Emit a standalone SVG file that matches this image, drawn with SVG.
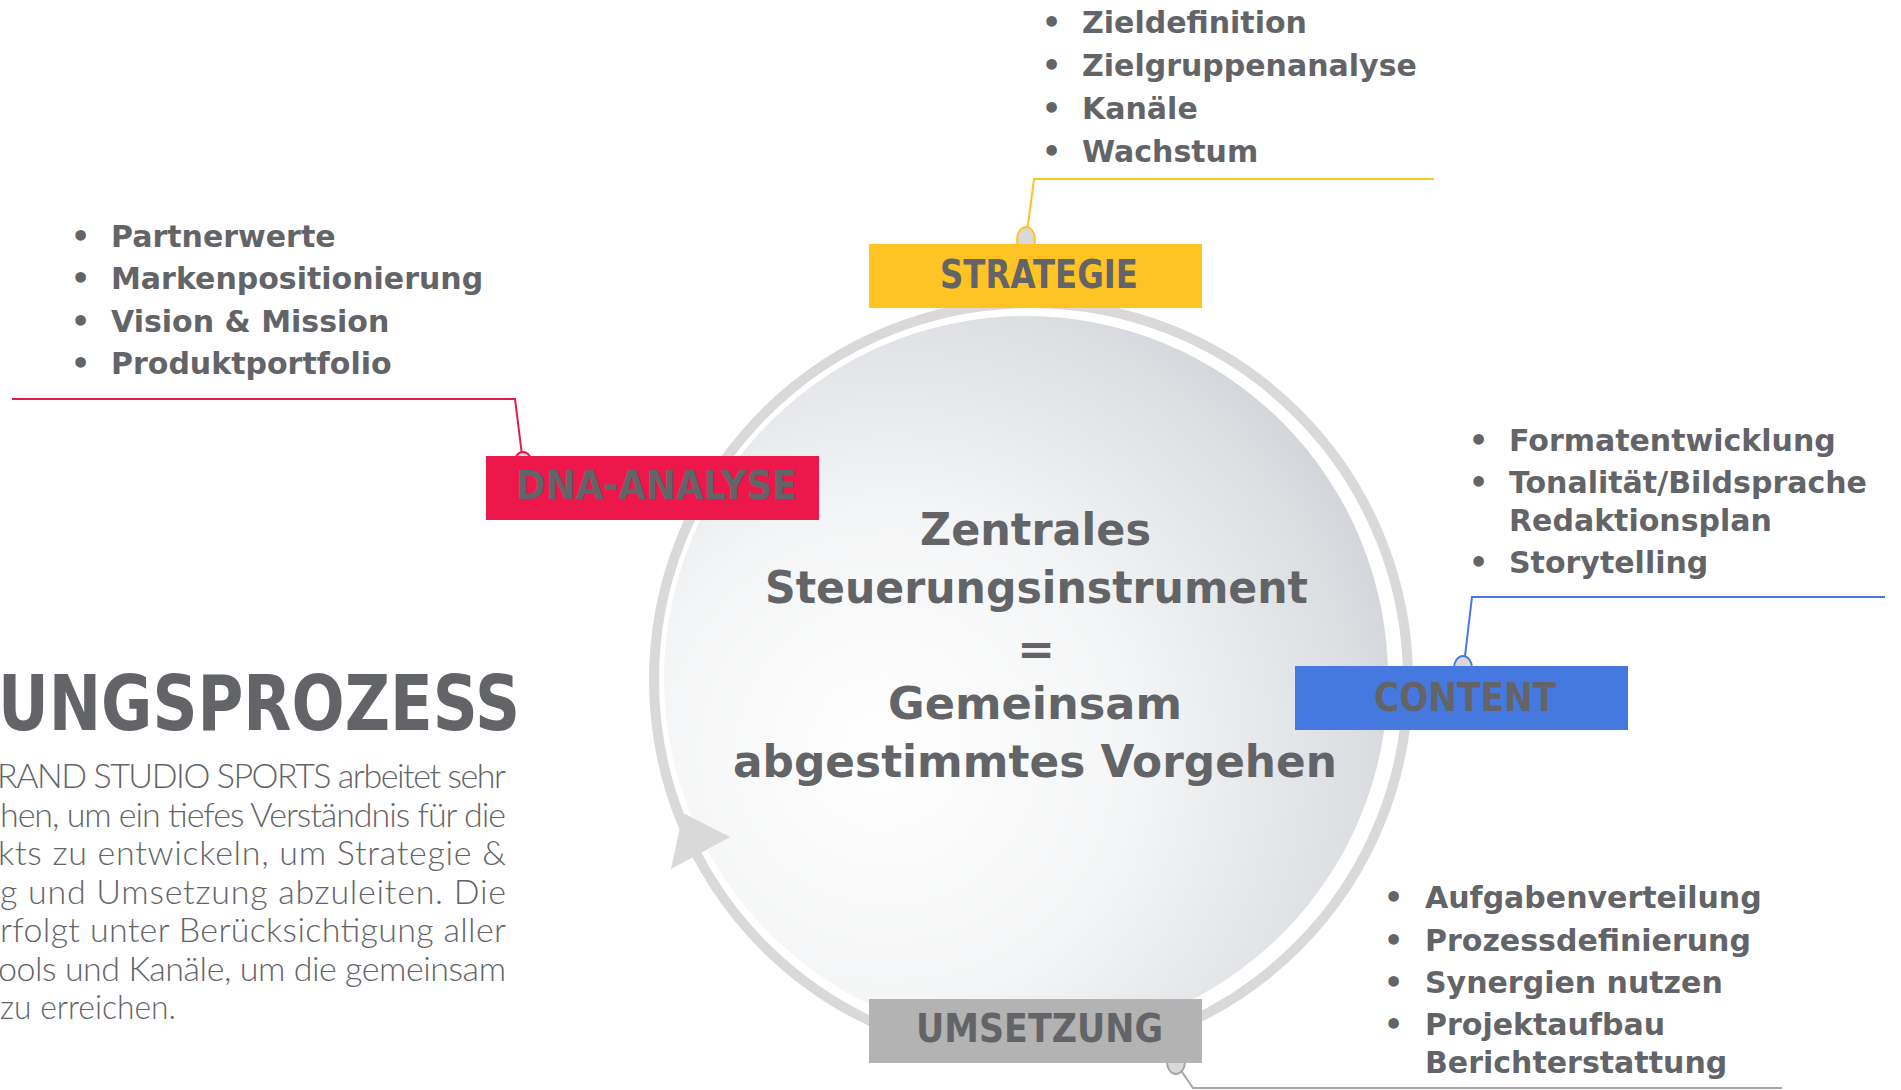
<svg xmlns="http://www.w3.org/2000/svg" width="1901" height="1090" viewBox="0 0 1901 1090">
<style>
.b{font-family:"DejaVu Sans","Liberation Sans",sans-serif;font-weight:bold;fill:#636467}
.li{font-size:30px}
.lbl{font-size:39px}
.ctr{font-size:45px}
.para{font-family:Lato,"Liberation Sans",sans-serif;font-weight:300;font-size:34px;fill:#636467}
.conn{fill:none;stroke-width:2}
.knob{fill:#d9d9d9;stroke-width:2}
</style>
<defs>
<radialGradient id="disc" cx="0.33" cy="0.62" r="0.85" fx="0.3" fy="0.6">
<stop offset="0" stop-color="#ffffff"/>
<stop offset="0.4" stop-color="#f4f5f6"/>
<stop offset="0.75" stop-color="#dcdee2"/>
<stop offset="1" stop-color="#c0c4cc"/>
</radialGradient>
</defs>
<rect width="1901" height="1090" fill="#ffffff"/>

<g id="cycle">
<circle cx="1031" cy="680" r="377" fill="none" stroke="#d9d9d9" stroke-width="10"/>
<circle cx="1026" cy="678" r="362" fill="url(#disc)"/>
<polygon points="683,813 730,837 671,869" fill="#d9d9d9"/>
</g>

<g id="connectors">
<polyline class="conn" stroke="#ffc324" points="1027,232 1034,179 1434,179"/>
<ellipse class="knob" stroke="#ffc324" cx="1026" cy="240" rx="9" ry="13"/>
<polyline class="conn" stroke="#e8194a" points="12,399 515,399 522,455"/>
<ellipse class="knob" stroke="#e8194a" cx="523" cy="464" rx="9" ry="12"/>
<polyline class="conn" stroke="#4679e0" points="1885,597 1472,597 1465,656"/>
<ellipse class="knob" stroke="#4679e0" cx="1463" cy="668" rx="9" ry="12"/>
<polyline class="conn" stroke="#a6a6a6" points="1178,1066 1193,1088 1782,1088"/>
<ellipse class="knob" stroke="#a6a6a6" cx="1176" cy="1062" rx="9" ry="12"/>
</g>

<g id="node-strategie">
<rect x="869" y="244" width="333" height="64" fill="#ffc324"/>
<text class="b lbl" x="940" y="288" textLength="198" lengthAdjust="spacingAndGlyphs">STRATEGIE</text>
</g>
<g id="node-dna">
<rect x="486" y="456" width="333" height="64" fill="#ed174b"/>
<text class="b lbl" x="516" y="499" textLength="281" lengthAdjust="spacingAndGlyphs">DNA-ANALYSE</text>
</g>
<g id="node-content">
<rect x="1295" y="666" width="333" height="64" fill="#4679e0"/>
<text class="b lbl" x="1374" y="711" textLength="182" lengthAdjust="spacingAndGlyphs">CONTENT</text>
</g>
<g id="node-umsetzung">
<rect x="869" y="999" width="333" height="64" fill="#b3b3b3"/>
<text class="b lbl" x="916" y="1042" textLength="247" lengthAdjust="spacingAndGlyphs">UMSETZUNG</text>
</g>

<g id="node-center">
<text class="b ctr" x="920" y="545" textLength="231" lengthAdjust="spacingAndGlyphs">Zentrales</text>
<text class="b ctr" x="765" y="603" textLength="543" lengthAdjust="spacingAndGlyphs">Steuerungsinstrument</text>
<text class="b ctr" x="1036" y="664" text-anchor="middle">=</text>
<text class="b ctr" x="888" y="719" textLength="294" lengthAdjust="spacingAndGlyphs">Gemeinsam</text>
<text class="b ctr" x="733" y="777" textLength="604" lengthAdjust="spacingAndGlyphs">abgestimmtes Vorgehen</text>
</g>

<g id="list-strategie">
<text class="b li" x="1042" y="33">•</text><text class="b li" x="1082" y="33">Zieldefinition</text>
<text class="b li" x="1042" y="76">•</text><text class="b li" x="1082" y="76">Zielgruppenanalyse</text>
<text class="b li" x="1042" y="119">•</text><text class="b li" x="1082" y="119">Kanäle</text>
<text class="b li" x="1042" y="162">•</text><text class="b li" x="1082" y="162">Wachstum</text>
</g>
<g id="list-dna">
<text class="b li" x="71" y="247">•</text><text class="b li" x="111" y="247">Partnerwerte</text>
<text class="b li" x="71" y="289">•</text><text class="b li" x="111" y="289">Markenpositionierung</text>
<text class="b li" x="71" y="332">•</text><text class="b li" x="111" y="332">Vision &amp; Mission</text>
<text class="b li" x="71" y="374">•</text><text class="b li" x="111" y="374">Produktportfolio</text>
</g>
<g id="list-content">
<text class="b li" x="1469" y="451">•</text><text class="b li" x="1509" y="451">Formatentwicklung</text>
<text class="b li" x="1469" y="493">•</text><text class="b li" x="1509" y="493">Tonalität/Bildsprache</text>
<text class="b li" x="1509" y="531">Redaktionsplan</text>
<text class="b li" x="1469" y="573">•</text><text class="b li" x="1509" y="573">Storytelling</text>
</g>
<g id="list-umsetzung">
<text class="b li" x="1384" y="908">•</text><text class="b li" x="1425" y="908">Aufgabenverteilung</text>
<text class="b li" x="1384" y="951">•</text><text class="b li" x="1425" y="951">Prozessdefinierung</text>
<text class="b li" x="1384" y="993">•</text><text class="b li" x="1425" y="993">Synergien nutzen</text>
<text class="b li" x="1384" y="1035">•</text><text class="b li" x="1425" y="1035">Projektaufbau</text>
<text class="b li" x="1425" y="1073">Berichterstattung</text>
</g>

<g id="intro">
<text class="b" x="-2" y="730" font-size="76" textLength="522" lengthAdjust="spacingAndGlyphs">UNGSPROZESS</text>
<text class="para" x="-3" y="788" textLength="509" lengthAdjust="spacing">RAND STUDIO SPORTS arbeitet sehr</text>
<text class="para" x="0" y="827" textLength="506" lengthAdjust="spacing">hen, um ein tiefes Verständnis für die</text>
<text class="para" x="-2" y="865" textLength="508" lengthAdjust="spacing">kts zu entwickeln, um Strategie &amp;</text>
<text class="para" x="0" y="904" textLength="506" lengthAdjust="spacing">g und Umsetzung abzuleiten. Die</text>
<text class="para" x="0" y="942" textLength="506" lengthAdjust="spacing">rfolgt unter Berücksichtigung aller</text>
<text class="para" x="-2" y="981" textLength="508" lengthAdjust="spacing">ools und Kanäle, um die gemeinsam</text>
<text class="para" x="0" y="1019" textLength="176" lengthAdjust="spacingAndGlyphs">zu erreichen.</text>
</g>
</svg>
